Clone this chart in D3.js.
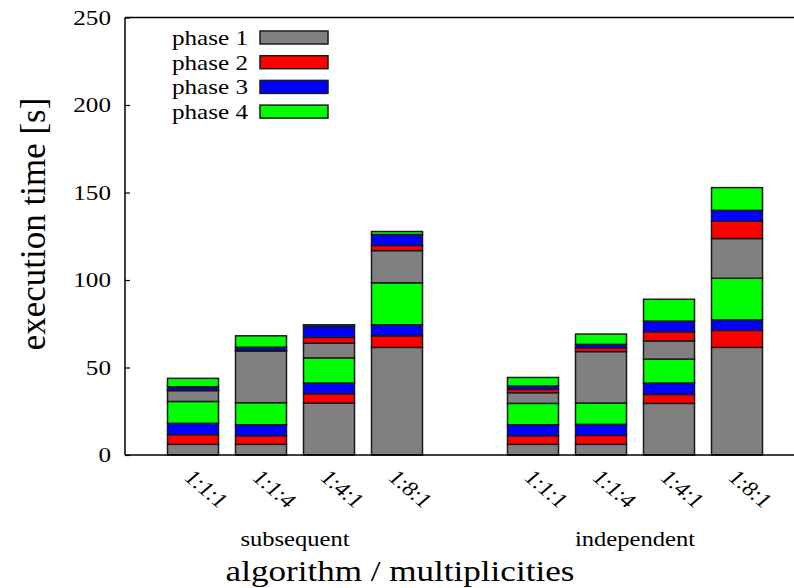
<!DOCTYPE html>
<html>
<head>
<meta charset="utf-8">
<script src="https://cdn.jsdelivr.net/npm/d3@7"></script>
<style>
  html, body { margin: 0; padding: 0; background: #fff; }
  svg { display: block; }
  text { font-family: "Liberation Serif", "Times New Roman", serif; fill: #000; }
</style>
</head>
<body>
<svg id="chart" width="794" height="588"></svg>
<script>
// Two groups of four multiplicity settings
const groups = ["subsequent", "independent"];
const ratios = ["1:1:1", "1:1:4", "1:4:1", "1:8:1"];
const barLabels = ["1:1:1", "1:1:4", "1:4:1", "1:8:1", "1:1:1", "1:1:4", "1:4:1", "1:8:1"];

const phaseNames = ["phase 1", "phase 2", "phase 3", "phase 4"];
const phaseColors = ["#808080", "#ff0000", "#0000ff", "#00ff00"];

// Execution time per phase [s], first pass (bars left to right)
const phase1Pass1 = [6.1, 6.1, 29.7, 61.5, 6.1, 6.1, 29.5, 61.5];
const phase2Pass1 = [5.5, 4.9, 5.3, 6.6, 4.9, 5.1, 5.1, 9.7];
const phase3Pass1 = [6.5, 6.3, 6.1, 6.3, 6.3, 6.3, 6.5, 6.0];
const phase4Pass1 = [12.5, 12.6, 14.4, 24.0, 12.2, 12.2, 13.7, 23.8];
// Second pass
const phase1Pass2 = [6.2, 29.5, 8.4, 18.4, 6.1, 29.4, 10.4, 22.7];
const phase2Pass2 = [0.5, 0.6, 3.3, 2.9, 1.9, 2.2, 5.2, 9.9];
const phase3Pass2 = [1.7, 1.6, 6.3, 6.3, 1.9, 1.9, 6.1, 6.2];
const phase4Pass2 = [4.8, 6.5, 0.9, 1.7, 4.9, 5.9, 12.5, 13.0];

const yTicks = [0, 50, 100, 150, 200, 250];

// slot index of each bar along the x axis (gap of one slot between groups)
const slots = [1, 2, 3, 4, 6, 7, 8, 9];

const segmentSeries = [
  { phase: 0, values: phase1Pass1 },
  { phase: 1, values: phase2Pass1 },
  { phase: 2, values: phase3Pass1 },
  { phase: 3, values: phase4Pass1 },
  { phase: 0, values: phase1Pass2 },
  { phase: 1, values: phase2Pass2 },
  { phase: 2, values: phase3Pass2 },
  { phase: 3, values: phase4Pass2 }
];

const svg = d3.select("#chart");
const plotLeft = 125, plotTop = 17.5, plotBottom = 455;
const sx = 1.17;   // wide-set lettering

const x = d3.scaleLinear().domain([0, 10]).range([plotLeft, plotLeft + 680]);
const y = d3.scaleLinear().domain([0, 250]).range([plotBottom, plotTop]);
const barW = 51;

// stacked rectangles
const rows = barLabels.map((lab, i) => {
  const r = { i };
  segmentSeries.forEach((s, k) => { r["s" + k] = s.values[i]; });
  return r;
});
const stack = d3.stack().keys(segmentSeries.map((s, k) => "s" + k));
const layers = stack(rows);

const barsG = svg.append("g");
layers.forEach((layer, k) => {
  barsG.selectAll(null)
    .data(layer)
    .join("rect")
    .attr("x", d => x(slots[d.data.i]) - barW / 2)
    .attr("width", barW)
    .attr("y", d => y(d[1]))
    .attr("height", d => y(d[0]) - y(d[1]))
    .attr("fill", phaseColors[segmentSeries[k].phase])
    .attr("stroke", "#1a1a1a")
    .attr("stroke-width", 1.5);
});

// frame: left, top and bottom lines
const frame = svg.append("g").attr("stroke", "#000").attr("stroke-width", 1.5).attr("fill", "none");
frame.append("line").attr("x1", plotLeft).attr("x2", 794).attr("y1", plotBottom).attr("y2", plotBottom);
frame.append("line").attr("x1", plotLeft).attr("x2", 794).attr("y1", plotTop).attr("y2", plotTop);
frame.append("line").attr("x1", plotLeft).attr("x2", plotLeft).attr("y1", plotTop).attr("y2", plotBottom);

// y axis ticks (inward) and labels
const yAxis = d3.axisLeft(y).tickValues(yTicks).tickSizeInner(-5).tickSizeOuter(0).tickPadding(14);
const yG = svg.append("g").attr("transform", `translate(${plotLeft},0)`).call(yAxis);
yG.select(".domain").remove();
yG.selectAll(".tick line").attr("stroke", "#000").attr("stroke-width", 1.2);
yG.selectAll(".tick text")
  .attr("x", null)
  .attr("transform", `translate(-14,0) scale(${sx},1)`)
  .attr("font-family", "Liberation Serif, serif")
  .attr("font-size", 21.5)
  .attr("fill", "#000");

// rotated bar labels
svg.append("g").selectAll("text")
  .data(barLabels)
  .join("text")
  .attr("transform", (d, i) => `translate(${x(slots[i]) + 2},${468}) scale(${sx},1) rotate(45)`)
  .attr("font-size", 21)
  .attr("dy", "0.7em")
  .text(d => d);

// group labels
svg.append("g").selectAll("text")
  .data(groups)
  .join("text")
  .attr("transform", (d, g) => `translate(${(x(slots[g * 4 + 1]) + x(slots[g * 4 + 2])) / 2},546) scale(${sx},1)`)
  .attr("text-anchor", "middle")
  .attr("font-size", 21)
  .text(d => d);

// axis titles
svg.append("text")
  .attr("transform", `translate(400,581) scale(${sx},1)`)
  .attr("text-anchor", "middle")
  .attr("font-size", 30)
  .text("algorithm / multiplicities");

svg.append("text")
  .attr("transform", "translate(45,224) rotate(-90)")
  .attr("text-anchor", "middle")
  .attr("font-size", 35)
  .text("execution time [s]");

// legend
const legend = svg.append("g");
phaseNames.forEach((name, k) => {
  const cy = 37.5 + k * 24.7;
  legend.append("text")
    .attr("transform", `translate(248,${cy}) scale(${sx},1)`)
    .attr("dy", "0.35em")
    .attr("text-anchor", "end")
    .attr("font-size", 21.5)
    .text(name);
  legend.append("rect")
    .attr("x", 260).attr("y", cy - 6.5)
    .attr("width", 68).attr("height", 13)
    .attr("fill", phaseColors[k])
    .attr("stroke", "#1a1a1a")
    .attr("stroke-width", 1.5);
});
</script>
</body>
</html>
